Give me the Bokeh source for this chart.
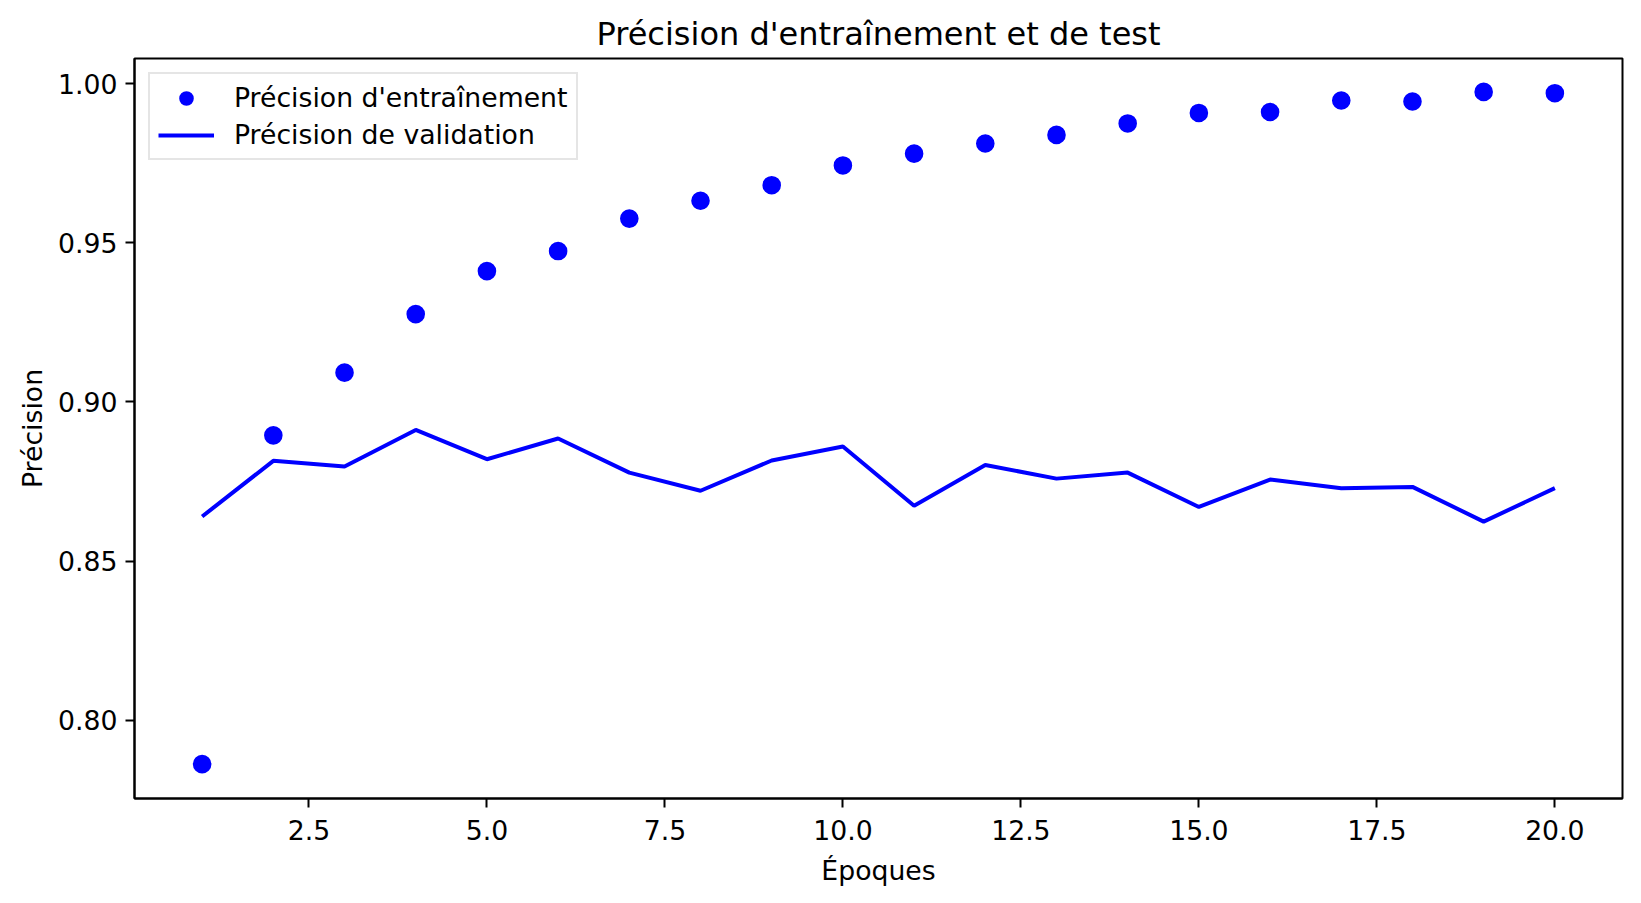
from bokeh.plotting import figure
from bokeh.models import Range1d, FixedTicker, NumeralTickFormatter, ColumnDataSource
from bokeh.embed import file_html
from bokeh.resources import INLINE

# ---- data ----
epochs = list(range(1, 21))
train_acc = [0.7862, 0.8895, 0.9092, 0.9276, 0.9411, 0.9474, 0.9576, 0.9632, 0.9681, 0.9743,
             0.9780, 0.9812, 0.9839, 0.9875, 0.9908, 0.9911, 0.9947, 0.9944, 0.9974, 0.9970]
val_acc = [0.8640, 0.8815, 0.8797, 0.8912, 0.8820, 0.8885, 0.8778, 0.8721, 0.8816, 0.8860,
           0.8674, 0.8802, 0.8759, 0.8778, 0.8670, 0.8756, 0.8729, 0.8733, 0.8624, 0.8729]
x_ticks = [2.5, 5.0, 7.5, 10.0, 12.5, 15.0, 17.5, 20.0]
y_ticks = [0.80, 0.85, 0.90, 0.95, 1.00]
title_text = "Précision d'entraînement et de test"
x_label = "Époques"
y_label = "Précision"
train_label = "Précision d'entraînement"
val_label = "Précision de validation"

FONT = "DejaVu Sans"
BLUE = "#0000ff"

src = ColumnDataSource(dict(epoch=epochs, train=train_acc, val=val_acc))

p = figure(width=1633, height=895, output_backend="svg", toolbar_location=None,
           x_range=Range1d(0.05, 20.95), y_range=Range1d(0.7754, 1.0079),
           min_border_left=134, min_border_right=11, min_border_top=58, min_border_bottom=97,
           title=title_text)

p.scatter("epoch", "train", source=src, size=16, fill_color=BLUE, line_color=BLUE,
          line_width=2.6, legend_label=train_label)
p.line("epoch", "val", source=src, line_color=BLUE, line_width=4, legend_label=val_label)

# title
p.title.align = "center"
p.title.text_font = FONT
p.title.text_font_size = "32px"
p.title.text_font_style = "normal"
p.title.text_color = "black"
p.title.standoff = 12

# frame
p.outline_line_color = "black"
p.outline_line_width = 2
p.outline_line_alpha = 1.0
p.xgrid.grid_line_color = None
p.ygrid.grid_line_color = None
p.background_fill_color = "white"
p.border_fill_color = "white"

for ax in (p.xaxis[0], p.yaxis[0]):
    ax.axis_line_color = "black"
    ax.axis_line_width = 2
    ax.major_tick_line_color = "black"
    ax.major_tick_line_width = 2
    ax.major_tick_out = 9
    ax.major_tick_in = 0
    ax.minor_tick_line_color = None
    ax.major_label_text_font = FONT
    ax.major_label_text_font_size = "26.7px"
    ax.major_label_text_color = "black"
    ax.axis_label_text_font = FONT
    ax.axis_label_text_font_size = "26.7px"
    ax.axis_label_text_font_style = "normal"
    ax.axis_label_text_color = "black"

p.xaxis[0].ticker = FixedTicker(ticks=x_ticks)
p.xaxis[0].formatter = NumeralTickFormatter(format="0.0")
p.xaxis[0].axis_label = x_label
p.xaxis[0].major_label_standoff = 12
p.xaxis[0].axis_label_standoff = 12

p.yaxis[0].ticker = FixedTicker(ticks=y_ticks)
p.yaxis[0].formatter = NumeralTickFormatter(format="0.00")
p.yaxis[0].axis_label = y_label
p.yaxis[0].major_label_standoff = 8
p.yaxis[0].axis_label_standoff = 7

# legend
lg = p.legend[0]
lg.location = "top_left"
lg.margin = 14
lg.padding = 8
lg.spacing = 6
lg.glyph_width = 56
lg.glyph_height = 30
lg.label_height = 30
lg.label_standoff = 20
lg.label_text_font = FONT
lg.label_text_font_size = "26.7px"
lg.label_text_color = "black"
lg.border_line_color = "#cccccc"
lg.border_line_width = 2
lg.background_fill_color = "white"
lg.background_fill_alpha = 0.8

open("out.html", "w").write(file_html(p, INLINE))
